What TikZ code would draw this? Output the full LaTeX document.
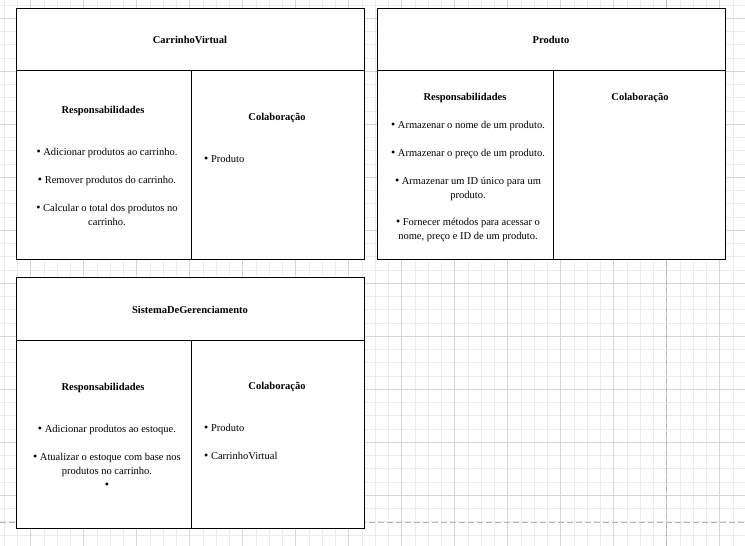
\documentclass[tikz,border=0pt]{standalone}
\usepackage{fontspec}
\setmainfont{Liberation Serif}
\usepackage{tikz}

\definecolor{gridminor}{HTML}{ECECEC}
\definecolor{gridmajor}{HTML}{D6D6D6}
\definecolor{pageline}{HTML}{B4B4B4}

\newcommand{\crcdot}{{\fontsize{12}{14}\selectfont •}}

\begin{document}
\begin{tikzpicture}[x=1pt, y=-1pt,
	card/.style={draw=black, fill=white, line width=0.8pt},
	head/.style={font=\fontsize{10.5}{13}\selectfont\bfseries, inner sep=0pt},
	items/.style={font=\fontsize{10.5}{14}\selectfont, align=center, anchor=north, inner sep=0pt},
	links/.style={font=\fontsize{10.5}{14}\selectfont, align=left, anchor=north west, inner sep=0pt}]
		\useasboundingbox (0,0) rectangle (745,546);
		\fill[white] (0,0) rectangle (745,546);
		\foreach \i in {0,...,55} \draw[gridminor, line width=0.7pt] ({4.2+13.25*\i},0) -- ({4.2+13.25*\i},546);
		\foreach \i in {0,...,40} \draw[gridminor, line width=0.7pt] (0,{5.05+13.25*\i}) -- (745,{5.05+13.25*\i});
		\foreach \i in {0,...,13} \draw[gridmajor, line width=0.7pt] ({30.7+53*\i},0) -- ({30.7+53*\i},546);
		\foreach \i in {0,...,9} \draw[gridmajor, line width=0.7pt] (0,{18.3+53*\i}) -- (745,{18.3+53*\i});
		\draw[pageline, line width=0.8pt, dash pattern=on 6pt off 3pt] (666.3,0) -- (666.3,546);
		\draw[pageline, line width=0.8pt, dash pattern=on 6pt off 3pt] (0,522.3) -- (745,522.3);

		% CarrinhoVirtual
		\draw[card] (16.7,8.3) rectangle (364.3,259);
		\draw[black, line width=0.8pt] (16.7,70.3) -- (364.3,70.3);
		\draw[black, line width=0.8pt] (191.7,70.3) -- (191.7,259);
		\node[head] (cvTitle) at (190,40) {CarrinhoVirtual};
		\node[head] (cvResp) at (103,110.5) {Responsabilidades};
		\node[head] (cvColab) at (277,117.5) {Colaboração};
		\node[items] (cvRespList) at (107,148.5) {\crcdot\ Adicionar produtos ao carrinho.\\[14pt]\crcdot\ Remover produtos do carrinho.\\[14pt]\crcdot\ Calcular o total dos produtos no\\carrinho.};
		\node[links] (cvColabList) at (204,155.5) {\crcdot\ Produto};

		% Produto
		\draw[card] (377.3,8.3) rectangle (725.3,259);
		\draw[black, line width=0.8pt] (377.3,70.3) -- (725.3,70.3);
		\draw[black, line width=0.8pt] (553.3,70.3) -- (553.3,259);
		\node[head] (prTitle) at (551,40) {Produto};
		\node[head] (prResp) at (465,97.5) {Responsabilidades};
		\node[head] (prColab) at (640,97.5) {Colaboração};
		\node[items] (prRespList) at (468,121.5) {\crcdot\ Armazenar o nome de um produto.\\[14pt]\crcdot\ Armazenar o preço de um produto.\\[14pt]\crcdot\ Armazenar um ID único para um\\produto.\\[13pt]\crcdot\ Fornecer métodos para acessar o\\nome, preço e ID de um produto.};

		% SistemaDeGerenciamento
		\draw[card] (16.7,277.3) rectangle (364.3,528.3);
		\draw[black, line width=0.8pt] (16.7,340.3) -- (364.3,340.3);
		\draw[black, line width=0.8pt] (191.7,340.3) -- (191.7,528.3);
		\node[head] (sgTitle) at (190,310) {SistemaDeGerenciamento};
		\node[head] (sgResp) at (103,387.5) {Responsabilidades};
		\node[head] (sgColab) at (277,386.5) {Colaboração};
		\node[items] (sgRespList) at (107,425.5) {\crcdot\ Adicionar produtos ao estoque.\\[14pt]\crcdot\ Atualizar o estoque com base nos\\produtos no carrinho.\\\crcdot};
		\node[links] (sgColabList) at (204,424.5) {\crcdot\ Produto\\[14pt]\crcdot\ CarrinhoVirtual};
		\end{tikzpicture}
\end{document}
